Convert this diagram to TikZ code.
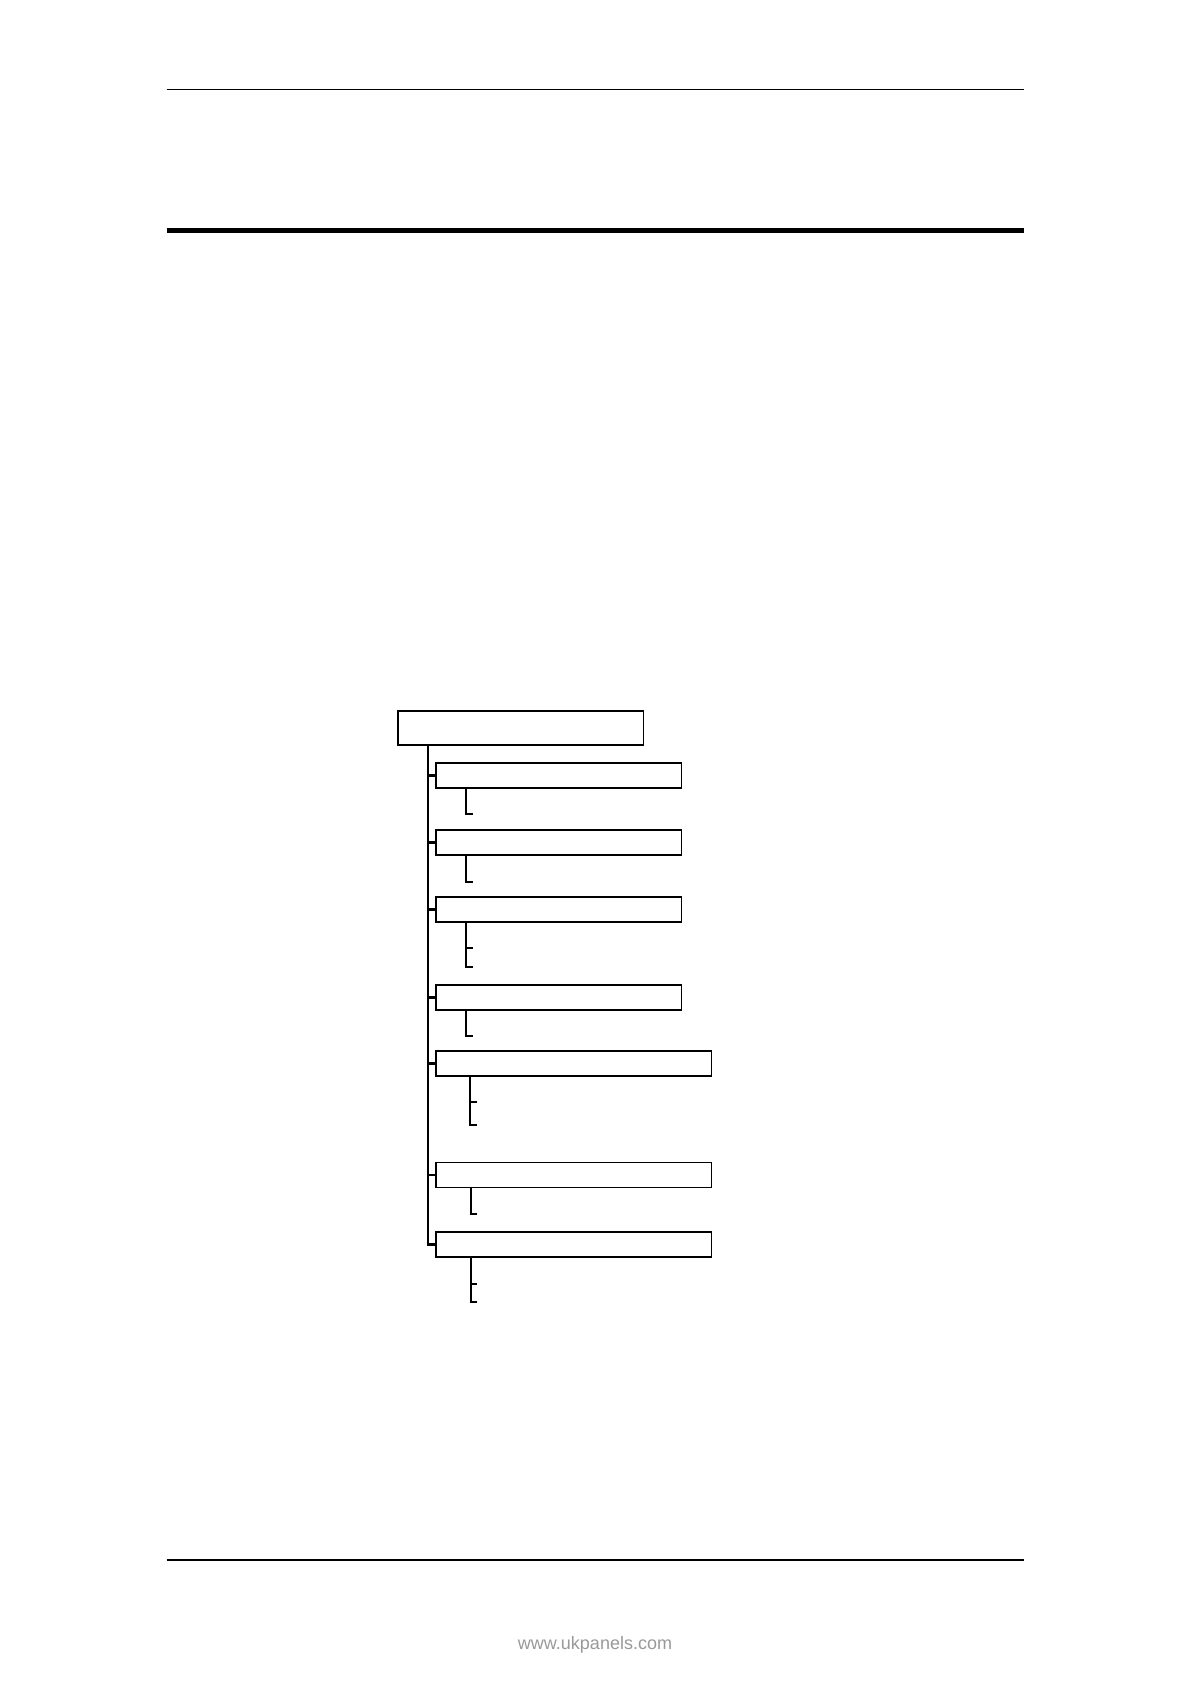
\documentclass[tikz,border=0pt]{standalone}
\usepackage{fontspec}
\setmainfont{Liberation Sans}
\begin{document}
\begin{tikzpicture}[x=0.5pt,y=-0.5pt,
  box/.style={draw, line width=0.6pt, inner sep=0pt, anchor=north west, minimum height=12.5pt},
  narrowbox/.style={box, minimum width=122.8pt},
  widebox/.style={box, minimum width=137.8pt},
  trunk/.style={line width=1.1pt},
  stub/.style={line width=1pt}]
\useasboundingbox (0,0) rectangle (1190,1684);
\fill[white] (0,0) rectangle (1190,1684);
% header and footer rules
\coordinate (hl1) at (166.5,89.3);
\coordinate (hr1) at (1024,89.3);
\draw[line width=0.7pt] (hl1) -- (hr1);
\coordinate (hl2) at (166.5,230.3);
\coordinate (hr2) at (1024,230.3);
\draw[line width=2.4pt] (hl2) -- (hr2);
\coordinate (fl) at (166.5,1560);
\coordinate (fr) at (1024,1560);
\draw[line width=0.6pt] (fl) -- (fr);
\node[font=\fontsize{9}{10}\selectfont, text=black!40] (web) at (595,1645) {www.ukpanels.com};
% root
\node[box, minimum width=122.8pt, minimum height=17pt] (root) at (397.3,710.3) {};
% children
\node[narrowbox] (c1) at (435.3,762.3) {};
\node[narrowbox] (c2) at (435.3,829.3) {};
\node[narrowbox] (c3) at (435.3,896.3) {};
\node[narrowbox] (c4) at (435.3,984.3) {};
\node[widebox] (c5) at (435.3,1050.3) {};
\node[widebox] (c6) at (435.3,1161.5) {};
\node[widebox] (c7) at (435.3,1231.3) {};
% trunk
\coordinate (tt) at (428.3,744.3);
\draw[trunk] (tt) |- (c7.west);
\foreach \c in {c1,c2,c3,c4,c5,c6}{
  \draw[trunk] (tt |- \c.west) -- (\c.west);
}
% sub stubs
\draw[stub] (c1.south west) ++(30.7,0) coordinate (s1) -- ++(0,25.7) -- ++(6.7,0);
\draw[stub] (c2.south west) ++(30.7,0) coordinate (s2) -- ++(0,26.4) -- ++(6.7,0);
\draw[stub] (c3.south west) ++(30.7,0) coordinate (s3) -- ++(0,44.7) -- ++(6.7,0);
\draw[stub] (s3) ++(0,25.4) -- ++(6.7,0);
\draw[stub] (c4.south west) ++(30.7,0) coordinate (s4) -- ++(0,25.4) -- ++(6.7,0);
\draw[stub] (c5.south west) ++(34.9,0) coordinate (s5) -- ++(0,48.4) -- ++(6.7,0);
\draw[stub] (s5) ++(0,25.7) -- ++(6.7,0);
\draw[stub] (c6.south west) ++(35.4,0) coordinate (s6) -- ++(0,26) -- ++(6.7,0);
\draw[stub] (c7.south west) ++(35.4,0) coordinate (s7) -- ++(0,44.7) -- ++(6.7,0);
\draw[stub] (s7) ++(0,26.4) -- ++(6.7,0);
\end{tikzpicture}
\end{document}
